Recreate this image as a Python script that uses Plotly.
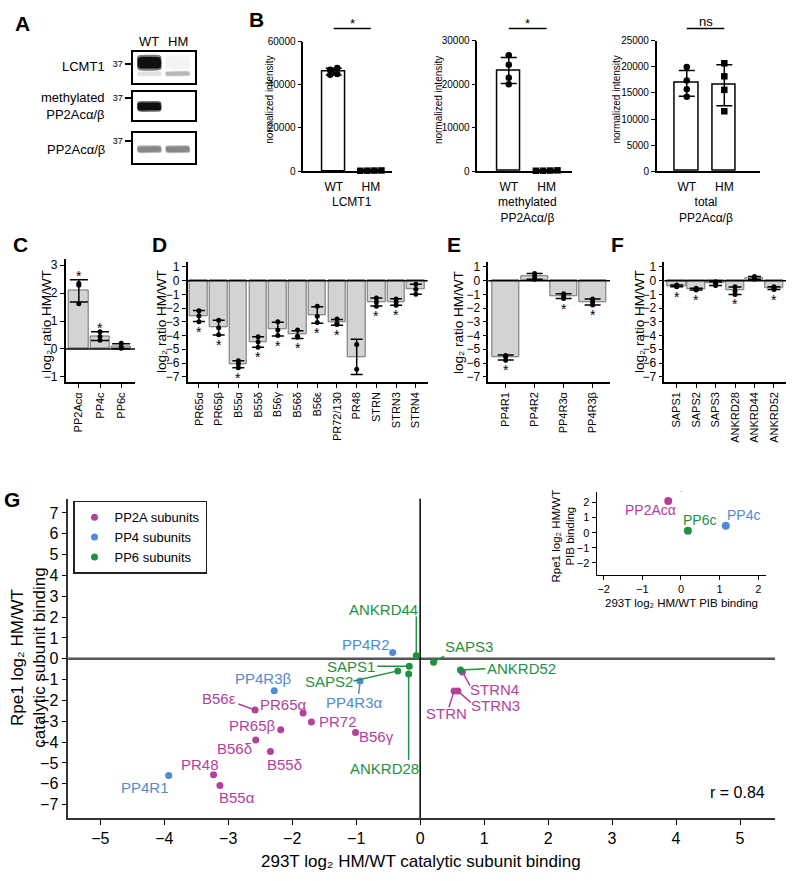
import numpy as np
import plotly.graph_objects as go

W, H = 794, 881
FONT = "Arial, 'Liberation Sans', Helvetica, sans-serif"

# ======================= DATA =======================
# Panel A - western blot band intensities (0 = no band, 1 = saturated)
blot_rows = ["LCMT1", "methylated<br>PP2Acα/β", "PP2Acα/β"]
blot_lanes = ["WT", "HM"]
blot_mw = "37"
blot_main_band = [[1.00, 0.05], [1.00, 0.00], [0.50, 0.50]]
blot_lower_band = [[0.12, 0.30], [0.00, 0.00], [0.00, 0.00]]

# Panel B - normalized intensities (4 replicates)
b_groups = ["WT", "HM"]
b_names = ["LCMT1", "methylated<br>PP2Acα/β", "total<br>PP2Acα/β"]
b_lcmt1_wt = [47800, 47000, 45000, 44600]
b_lcmt1_hm = [300, 200, 250, 350]
b_meth_wt = [26700, 24500, 21500, 20000]
b_meth_hm = [150, 100, 200, 120]
b_total_wt = [20000, 17400, 15700, 14300]
b_total_hm = [20700, 18200, 15600, 11500]
b_sig = ["*", "*", "ns"]
b_ymax = [60000, 30000, 25000]
b_dtick = [20000, 10000, 5000]

# Panels C-F - log2 ratio HM/WT (replicates)
c_cats = ["PP2Acα", "PP4c", "PP6c"]
c_reps = [[2.34, 2.28, 1.62], [0.62, 0.45, 0.31], [0.20, 0.07, 0.03]]
c_star = [1, 1, 0]

d_cats = ["PR65α", "PR65β", "B55α", "B55δ", "B56γ", "B56δ", "B56ε",
          "PR72/130", "PR48", "STRN", "STRN3", "STRN4"]
d_reps = [[-2.20, -2.55, -3.00], [-2.88, -3.44, -3.95], [-5.84, -6.08, -6.34],
          [-4.09, -4.46, -4.85], [-3.00, -3.60, -4.00], [-3.60, -4.05, -4.13],
          [-1.86, -2.60, -3.05], [-2.80, -3.12, -3.20], [-4.65, -6.46],
          [-1.27, -1.55, -1.86], [-1.33, -1.55, -1.79], [-0.27, -0.63, -0.99]]
d_star = [1, 1, 1, 1, 1, 1, 1, 1, 0, 1, 1, 0]

e_cats = ["PP4R1", "PP4R2", "PP4R3α", "PP4R3β"]
e_reps = [[-5.45, -5.55, -5.80], [0.52, 0.30, 0.10], [-0.95, -1.15, -1.30],
          [-1.33, -1.55, -1.78]]
e_star = [1, 0, 1, 1]

f_cats = ["SAPS1", "SAPS2", "SAPS3", "ANKRD28", "ANKRD44", "ANKRD52"]
f_reps = [[-0.32, -0.38, -0.45], [-0.55, -0.62, -0.68], [-0.08, -0.22, -0.35],
          [-0.45, -0.75, -1.00], [0.30, 0.22, 0.10], [-0.45, -0.55, -0.65]]
f_star = [1, 1, 0, 1, 0, 1]

# Panel G - 293T (x) vs Rpe1 (y) log2 HM/WT
pp2a_names = ["PR65α", "PR65β", "B55α", "B55δ", "B56γ", "B56δ", "B56ε",
              "PR72", "PR48", "STRN", "STRN3", "STRN4"]
pp2a_x = [-1.83, -2.18, -3.13, -2.34, -1.01, -2.57, -2.58, -1.70, -3.23, 0.53, 0.59, 0.66]
pp2a_y = [-2.60, -3.41, -6.08, -4.45, -3.54, -3.90, -2.46, -3.03, -5.56, -1.55, -1.55, -0.63]
pp4_names = ["PP4R1", "PP4R2", "PP4R3α", "PP4R3β"]
pp4_x = [-3.93, -0.43, -0.94, -2.28]
pp4_y = [-5.60, 0.30, -1.07, -1.53]
pp6_names = ["SAPS1", "SAPS2", "SAPS3", "ANKRD28", "ANKRD44", "ANKRD52"]
pp6_x = [-0.17, -0.35, 0.21, -0.18, -0.06, 0.63]
pp6_y = [-0.36, -0.58, -0.16, -0.73, 0.16, -0.54]
r_value = 0.84
pib_names = ["PP2Acα", "PP4c", "PP6c"]
pib_x = [-0.33, 1.16, 0.18]
pib_y = [2.09, 0.46, 0.13]

# ======================= LAYOUT CONSTANTS =======================
C_PP2A, C_PP4, C_PP6 = "#B4409C", "#4F8BD6", "#1F9140"
pib_colors = [C_PP2A, C_PP4, C_PP6]
LOG2 = "log₂"

# label placement for panel G: (label x, label y, connector start or None)
G_LABELS = {
    "PR65α": (-2.13, -2.19, None), "PR65β": (-2.62, -3.20, None),
    "B55α": (-2.86, -6.67, None), "B55δ": (-2.12, -5.09, None),
    "B56γ": (-0.68, -3.71, None), "B56δ": (-2.90, -4.30, None),
    "B56ε": (-3.15, -1.90, (-2.84, -2.17)), "PR72": (-1.28, -3.00, None),
    "PR48": (-3.44, -5.09, None), "STRN": (0.41, -2.64, (0.45, -2.32)),
    "STRN3": (1.18, -2.24, (0.79, -2.09)), "STRN4": (1.16, -1.45, (0.78, -1.29)),
    "PP4R1": (-4.30, -6.20, None), "PP4R2": (-0.84, 0.68, None),
    "PP4R3α": (-1.02, -2.08, (-0.96, -1.69)), "PP4R3β": (-2.45, -0.93, None),
    "SAPS1": (-1.08, -0.39, (-0.67, -0.36)), "SAPS2": (-1.43, -1.10, (-1.04, -1.06)),
    "SAPS3": (0.77, 0.60, (0.375, 0.13)), "ANKRD28": (-0.55, -5.25, (-0.18, -4.85)),
    "ANKRD44": (-0.57, 2.38, (-0.06, 2.03)), "ANKRD52": (1.59, -0.47, (1.02, -0.48)),
}
PIB_LABELS = {"PP2Acα": (-0.80, 1.48), "PP4c": (1.61, 1.20), "PP6c": (0.49, 0.87)}

fig = go.Figure()
AX, INFO, shapes, annots = {}, {}, [], []


def xr_(n): return "x" if n == 1 else f"x{n}"
def yr_(n): return "y" if n == 1 else f"y{n}"


def set_axes(n, xpx, ypx, xrange, yrange, xkw=None, ykw=None):
    base = dict(showgrid=False, zeroline=False, fixedrange=True, linecolor="black",
                tickcolor="black", tickfont=dict(family=FONT, size=12, color="black"))
    xa = dict(base, domain=[xpx[0] / W, xpx[1] / W], range=list(xrange), anchor=yr_(n))
    xa.update(xkw or {})
    ya = dict(base, domain=[1 - ypx[1] / H, 1 - ypx[0] / H], range=list(yrange), anchor=xr_(n))
    ya.update(ykw or {})
    AX["xaxis" if n == 1 else f"xaxis{n}"] = xa
    AX["yaxis" if n == 1 else f"yaxis{n}"] = ya
    INFO[n] = (xa["domain"], list(xrange), ya["domain"], list(yrange))


def paper_x(n, v):
    d, r = INFO[n][0], INFO[n][1]
    return d[0] + (v - r[0]) / (r[1] - r[0]) * (d[1] - d[0])


def px(x): return x / W
def py(y): return 1 - y / H


def ann(text, x, y, size=12, color="black", xref="paper", yref="paper", **kw):
    annots.append(dict(text=text, x=x, y=y, xref=xref, yref=yref, showarrow=False,
                       font=dict(family=FONT, size=size, color=color), **kw))


def letter(t, x, y):
    ann(f"<b>{t}</b>", px(x), py(y), size=21, xanchor="center", yanchor="middle")


# ======================= PANEL A =======================
box_y = [(46.7, 78.3), (87.3, 115.0), (128.3, 159.3)]
lane_x = [0.26, 0.72]
band_hw = 0.19
main_geom = [(0.66, 0.19), (0.48, 0.15), (0.46, 0.10)]
lower_geom = [(0.31, 0.07), None, None]
mw_pos = [0.63, 0.79, 0.72]
row_label_y = [61, 101.7, 145.7]


def band_poly(cx, cy, hw, hh, n=6, m=60):
    t = np.linspace(0, 2 * np.pi, m)
    c, s = np.cos(t), np.sin(t)
    return (cx + hw * np.sign(c) * np.abs(c) ** (2 / n),
            cy + hh * np.sign(s) * np.abs(s) ** (2 / n))


def gray(i):
    v = int(round(255 - 240 * min(i, 1)))
    return f"rgb({v},{v},{v})"


for i in range(3):
    n = i + 1
    set_axes(n, (133.3, 195.0), box_y[i], (0, 1), (0, 1),
             xkw=dict(showline=True, mirror=True, linewidth=1.5, showticklabels=False, ticks=""),
             ykw=dict(showline=True, mirror=True, linewidth=1.5, ticks="outside", ticklen=7,
                      tickwidth=2, tickvals=[mw_pos[i]], ticktext=[blot_mw],
                      tickfont=dict(family=FONT, size=9, color="black")))
    for j in range(2):
        layers = [(blot_main_band[i][j], main_geom[i])]
        if lower_geom[i] is not None:
            layers.append((blot_lower_band[i][j], lower_geom[i]))
        for inten, (cy, hh) in layers:
            if inten <= 0:
                continue
            for scale_w, scale_h, k in [(1.06, 1.35, 0.55), (1.0, 1.0, 1.0)]:
                bx, byy = band_poly(lane_x[j], cy, band_hw * scale_w, hh * scale_h)
                fig.add_trace(go.Scatter(x=bx, y=byy, mode="lines", fill="toself",
                                         fillcolor=gray(inten * k), line=dict(width=0),
                                         hoverinfo="skip", showlegend=False,
                                         xaxis=xr_(n), yaxis=yr_(n)))
    ann(blot_rows[i], px(107), py(row_label_y[i]), size=13, xanchor="right", yanchor="middle",
        align="right")

for j, lane in enumerate(blot_lanes):
    ann(lane, lane_x[j], py(36), size=13, xref="x", xanchor="center", yanchor="middle")
letter("A", 22, 17.5)

# ======================= PANEL B =======================
b_wt = [b_lcmt1_wt, b_meth_wt, b_total_wt]
b_hm = [b_lcmt1_hm, b_meth_hm, b_total_hm]
b_xpx = [(303.3, 392.0), (477.3, 571.7), (656.7, 760.0)]
b_ypx = [(36.0, 167.3), (35.3, 167.3), (35.3, 167.3)]
b_xr = [(-0.82, 1.57), (-0.83, 1.66), (-0.80, 1.95)]
b_title_x = [270, 439.3, 616.7]


def swarm(vals, thresh, step):
    vals = np.asarray(vals, float)
    order = np.argsort(vals)
    offs = np.zeros(len(vals))
    groups, cur = [], [order[0]]
    for k in order[1:]:
        if vals[k] - vals[cur[-1]] < thresh:
            cur.append(k)
        else:
            groups.append(cur)
            cur = [k]
    groups.append(cur)
    for g in groups:
        for q, k in enumerate(g):
            offs[k] = (q - (len(g) - 1) / 2) * step
    return offs


b_pos = list(range(len(b_groups)))
for i in range(3):
    n = 4 + i
    set_axes(n, b_xpx[i], b_ypx[i], b_xr[i], (0, b_ymax[i]),
             xkw=dict(showline=True, linewidth=1.5, ticks="", tickvals=b_pos, ticktext=b_groups,
                      tickfont=dict(family=FONT, size=12), ticklabelstandoff=4),
             ykw=dict(showline=True, linewidth=1.5, ticks="outside", ticklen=4, tickwidth=1.3,
                      dtick=b_dtick[i], tickformat="d",
                      tickfont=dict(family=FONT, size=10, color="black")))
    sets = [b_wt[i], b_hm[i]]
    means = [float(np.mean(s)) for s in sets]
    sds = [float(np.std(s, ddof=1)) for s in sets]
    fig.add_trace(go.Bar(x=b_pos, y=means, width=0.62,
                         marker=dict(color="white", line=dict(color="black", width=1.5)),
                         error_y=dict(type="data", array=sds, visible=True, color="black",
                                      thickness=1.5, width=8),
                         showlegend=False, hoverinfo="skip", xaxis=xr_(n), yaxis=yr_(n)))
    for g, (s, sym) in enumerate(zip(sets, ["circle", "square"])):
        offs = swarm(s, 0.03 * b_ymax[i], 0.19)
        fig.add_trace(go.Scatter(x=[b_pos[g] + o for o in offs], y=s, mode="markers",
                                 marker=dict(color="black", size=6.5, symbol=sym),
                                 showlegend=False, hoverinfo="skip", cliponaxis=False,
                                 xaxis=xr_(n), yaxis=yr_(n)))
    x0, x1 = paper_x(n, b_pos[0]), paper_x(n, b_pos[1])
    shapes.append(dict(type="line", xref="paper", yref="paper", x0=x0, x1=x1,
                       y0=py(22.7), y1=py(22.7), line=dict(color="black", width=1.5)))
    ann(b_sig[i], (x0 + x1) / 2, py(18 if b_sig[i] == "*" else 15.5), size=13,
        xanchor="center", yanchor="middle")
    ann(b_names[i], (x0 + x1) / 2, py(189), size=12, xanchor="center", yanchor="top")
    ann("normalized intensity", px(b_title_x[i]), py(95), size=10, textangle=-90,
        xanchor="center", yanchor="middle")
letter("B", 256, 14)

# ======================= PANELS C-F =======================
panels = [
    (7, c_cats, c_reps, c_star, (65.7, 135.0), (256.7, 381.0), (-0.62, 2.65), (-1.19, 3.2),
     0.92, 9, 46, "C", (20, 242)),
    (8, d_cats, d_reps, d_star, (187.7, 427.7), (259.5, 380.7), (-0.57, 11.6), (-7.38, 1.34),
     0.89, 6, 161, "D", (159, 242)),
    (9, e_cats, e_reps, e_star, (488.3, 610.0), (259.5, 380.7), (-0.6, 3.6), (-7.38, 1.34),
     0.91, 8, 458, "E", (454, 242)),
    (10, f_cats, f_reps, f_star, (664.3, 786.0), (259.5, 380.7), (-0.64, 5.62), (-7.38, 1.34),
     0.94, 6.5, 639, "F", (617, 242)),
]
for (n, cats, reps, stars, xpx_, ypx_, xrg, yrg, bw, ew, tx, let, lpos) in panels:
    set_axes(n, xpx_, ypx_, xrg, yrg,
             xkw=dict(showline=True, linewidth=1.5, ticks="outside", ticklen=4, tickwidth=1.3,
                      tickangle=-90, type="category", tickfont=dict(family=FONT, size=11)),
             ykw=dict(showline=True, linewidth=1.5, ticks="outside", ticklen=4, tickwidth=1.3,
                      dtick=1, tickfont=dict(family=FONT, size=12)))
    means = [float(np.mean(r)) for r in reps]
    sds = [float(np.std(r, ddof=1)) for r in reps]
    fig.add_trace(go.Bar(x=cats, y=means, width=bw,
                         marker=dict(color="#D3D3D3", line=dict(color="#6F6F6F", width=1)),
                         error_y=dict(type="data", array=sds, visible=True, color="black",
                                      thickness=1.5, width=ew),
                         showlegend=False, hoverinfo="skip", xaxis=xr_(n), yaxis=yr_(n)))
    px_list, py_list = [], []
    for c, r in zip(cats, reps):
        px_list += [c] * len(r)
        py_list += list(r)
    fig.add_trace(go.Scatter(x=px_list, y=py_list, mode="markers",
                             marker=dict(color="black", size=5), showlegend=False,
                             hoverinfo="skip", xaxis=xr_(n), yaxis=yr_(n)))
    shapes.append(dict(type="line", xref=f"{xr_(n)} domain", yref=yr_(n), x0=0, x1=1, y0=0, y1=0,
                       line=dict(color="black", width=1.5), layer="above"))
    for c, m, s, st in zip(cats, means, sds, stars):
        if not st:
            continue
        if m < 0:
            ann("*", c, m - s, size=14, xref=xr_(n), yref=yr_(n), xanchor="center",
                yanchor="top", yshift=0)
        else:
            ann("*", c, m + s, size=14, xref=xr_(n), yref=yr_(n), xanchor="center",
                yanchor="bottom", yshift=-6)
    ann(f"{LOG2} ratio HM/WT", px(tx), py(320), size=13.5, textangle=-90,
        xanchor="center", yanchor="middle")
    letter(let, *lpos)

# ======================= PANEL G =======================
set_axes(11, (68.3, 775.0), (499.0, 822.7), (-5.5, 5.547), (-7.66, 7.68),
         xkw=dict(showline=True, linewidth=1.5, linecolor="#333", ticks="outside", ticklen=5,
                  tickwidth=1.3, tickvals=list(range(-5, 6)),
                  tickfont=dict(family=FONT, size=16, color="black")),
         ykw=dict(showline=True, linewidth=1.5, linecolor="#333", ticks="outside", ticklen=5,
                  tickwidth=1.3, tickvals=list(range(-7, 8)),
                  tickfont=dict(family=FONT, size=16, color="black")))
shapes.append(dict(type="line", xref="x11 domain", yref="y11", x0=0, x1=1, y0=0, y1=0,
                   line=dict(color="#555", width=2.5), layer="below"))
shapes.append(dict(type="line", xref="x11", yref="y11 domain", x0=0, x1=0, y0=0, y1=1,
                   line=dict(color="black", width=1.5), layer="below"))

groups = [("PP2A subunits", pp2a_names, pp2a_x, pp2a_y, C_PP2A),
          ("PP4 subunits", pp4_names, pp4_x, pp4_y, C_PP4),
          ("PP6 subunits", pp6_names, pp6_x, pp6_y, C_PP6)]
for gname, names, xs, ys, col in groups:
    for nm, x, y in zip(names, xs, ys):
        lx, ly, conn = G_LABELS[nm]
        if conn is not None:
            shapes.append(dict(type="line", xref="x11", yref="y11", x0=conn[0], y0=conn[1],
                               x1=x, y1=y, line=dict(color=col, width=1.5)))
        ann(nm, lx, ly, size=15, color=col, xref="x11", yref="y11", xanchor="center",
            yanchor="middle")
    fig.add_trace(go.Scatter(x=xs, y=ys, mode="markers", name=gname, text=names,
                             marker=dict(color=col, size=7), xaxis="x11", yaxis="y11"))

ann(f"r = {r_value:.2f}", 5.42, -6.4, size=16, xref="x11", yref="y11", xanchor="right",
    yanchor="middle")
ann(f"293T {LOG2} HM/WT catalytic subunit binding", px(421), py(866), size=17,
    xanchor="center", yanchor="middle")
ann(f"Rpe1 {LOG2} HM/WT<br>catalytic subunit binding", px(29), py(660), size=17,
    textangle=-90, xanchor="center", yanchor="middle")
letter("G", 12, 500)

# inset
set_axes(12, (596.7, 766.0), (491.7, 576.0), (-2.18, 2.2), (-2.79, 2.72),
         xkw=dict(showline=True, linewidth=1.3, ticks="outside", ticklen=4, tickwidth=1.2,
                  tickvals=[-2, -1, 0, 1, 2], tickfont=dict(family=FONT, size=11, color="black")),
         ykw=dict(showline=True, linewidth=1.3, ticks="outside", ticklen=4, tickwidth=1.2,
                  tickvals=[-2, -1, 0, 1, 2], tickfont=dict(family=FONT, size=11, color="black")))
shapes.append(dict(type="line", xref="x12 domain", yref="y12", x0=0, x1=1, y0=0, y1=0,
                   line=dict(color="black", width=1.3), layer="below"))
shapes.append(dict(type="line", xref="x12", yref="y12 domain", x0=0, x1=0, y0=0, y1=1,
                   line=dict(color="black", width=1.3), layer="below"))
fig.add_trace(go.Scatter(x=pib_x, y=pib_y, mode="markers", text=pib_names,
                         marker=dict(color=pib_colors, size=8), showlegend=False,
                         xaxis="x12", yaxis="y12"))
for nm, col in zip(pib_names, pib_colors):
    lx, ly = PIB_LABELS[nm]
    ann(nm, lx, ly, size=14, color=col, xref="x12", yref="y12", xanchor="center",
        yanchor="middle")
ann(f"293T {LOG2} HM/WT PIB binding", px(681.7), py(605), size=11.5,
    xanchor="center", yanchor="middle")
ann(f"Rpe1 {LOG2} HM/WT<br>PIB binding", px(563.5), py(536.7), size=11.5,
    textangle=-90, xanchor="center", yanchor="middle")

fig.update_layout(
    width=W, height=H, autosize=False,
    margin=dict(l=0, r=0, t=0, b=0),
    paper_bgcolor="white", plot_bgcolor="white",
    font=dict(family=FONT, color="black"),
    showlegend=True,
    legend=dict(x=px(73), y=py(501), xanchor="left", yanchor="top",
                bordercolor="#222", borderwidth=1.5, bgcolor="white",
                font=dict(family=FONT, size=13, color="black"),
                tracegroupgap=0, itemsizing="trace", itemwidth=30),
    bargap=0, shapes=shapes, annotations=annots,
    **AX,
)

fig.write_html("out.html", config={"displayModeBar": False, "staticPlot": False},
               post_script="document.body.style.margin='0';document.body.style.padding='0';")
